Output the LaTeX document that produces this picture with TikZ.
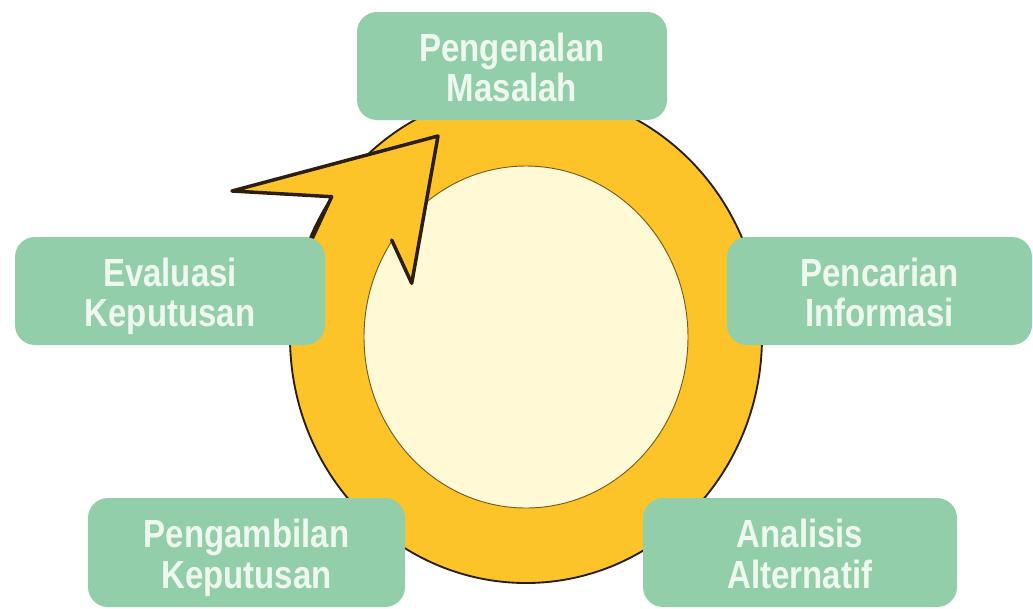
\documentclass[tikz,border=0pt]{standalone}
\usepackage{fontspec}
\setmainfont{Liberation Sans}
\usepackage{graphicx}
\definecolor{ringyellow}{RGB}{252,196,40}
\definecolor{paleyellow}{RGB}{255,249,214}
\definecolor{boxgreen}{RGB}{146,206,170}
\definecolor{boxtext}{RGB}{238,248,238}
\definecolor{ringline}{RGB}{43,30,14}
\definecolor{innerline}{RGB}{120,90,30}
\newcommand{\boxlbl}[2]{\raisebox{-5.5pt}[\height][\depth]{\scalebox{1}[1.19]{\fontsize{24.75}{25.5}\selectfont\begin{tabular}{@{}c@{}}#1\\#2\end{tabular}}}}
\tikzset{
  gbox/.style={fill=boxgreen, rounded corners=15pt, inner sep=0pt, text=boxtext, font=\bfseries},
  ringfill/.style={fill=ringyellow},
  arrowline/.style={draw=ringline, line width=2.6pt, line join=round, line cap=round}
}
\begin{document}
\begin{tikzpicture}[x=0.75pt,y=-0.75pt]
\useasboundingbox (0,0) rectangle (1033,608);
% ring
\draw[ringfill, draw=ringline, line width=1.4pt] (526,337) ellipse [x radius=177pt, y radius=184.5pt];
\draw[fill=paleyellow, draw=innerline, line width=0.7pt] (526,337) ellipse [x radius=121.5pt, y radius=128.25pt];
% arrow head
\coordinate (n1) at (310.7,241.7);
\coordinate (n2) at (331.7,196.7);
\coordinate (tipL) at (232,191);
\coordinate (tipT) at (438,136);
\coordinate (tipB) at (411.7,283.3);
\coordinate (n3) at (391.7,240);
\fill[ringyellow] (n1) -- (n2) -- (tipL) -- (tipT) -- (tipB) -- (n3) -- cycle;
\draw[arrowline] (n1) -- (n2) -- (tipL) -- (tipT) -- (tipB) -- (n3);
% boxes
\node[gbox, minimum width=232.5pt, minimum height=81pt] (pm) at (512,66) {\boxlbl{Pengenalan}{Masalah}};
\node[gbox, minimum width=232.5pt, minimum height=81pt] (ek) at (170,291) {\boxlbl{Evaluasi}{Keputusan}};
\node[gbox, minimum width=228.75pt, minimum height=81pt] (pi) at (879.5,291) {\boxlbl{Pencarian}{Informasi}};
\node[gbox, minimum width=237.75pt, minimum height=81.75pt] (pk) at (246.5,552.5) {\boxlbl{Pengambilan}{Keputusan}};
\node[gbox, minimum width=235.5pt, minimum height=81.75pt] (aa) at (800,552.5) {\boxlbl{Analisis}{Alternatif}};
\end{tikzpicture}
\end{document}
